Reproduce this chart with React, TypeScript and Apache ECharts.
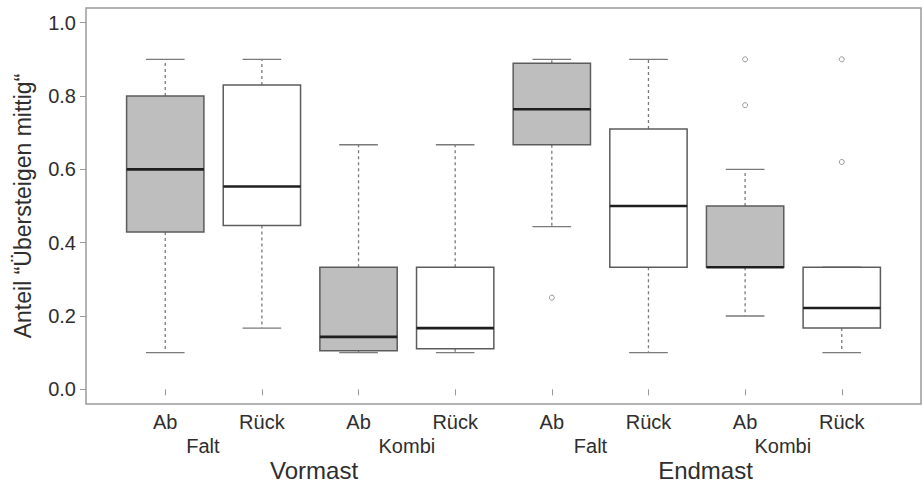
import React, { useEffect, useRef } from "react";
import * as echarts from "echarts";

// ---- data ----
const positions = [1, 2, 3, 4, 5, 6, 7, 8];
const boxLabels = ["Ab", "Rück", "Ab", "Rück", "Ab", "Rück", "Ab", "Rück"];
const lowerWhisker = [0.1, 0.167, 0.1, 0.1, 0.444, 0.1, 0.2, 0.1];
const quartile1 = [0.429, 0.447, 0.105, 0.111, 0.667, 0.333, 0.333, 0.167];
const medians = [0.6, 0.553, 0.143, 0.167, 0.764, 0.5, 0.333, 0.222];
const quartile3 = [0.8, 0.83, 0.333, 0.333, 0.889, 0.71, 0.5, 0.333];
const upperWhisker = [0.9, 0.9, 0.667, 0.667, 0.9, 0.9, 0.6, 0.333];
const fillKinds = [1, 0, 1, 0, 1, 0, 1, 0]; // 1 = grey (Ab), 0 = white (Rück)
const outliers: [number, number][] = [
  [5, 0.25],
  [7, 0.9],
  [7, 0.775],
  [8, 0.9],
  [8, 0.62],
];
const typeLabels = ["Falt", "Kombi", "Falt", "Kombi"];
const typePositions = [1.39, 3.5, 5.4, 7.39];
const phaseLabels = ["Vormast", "Endmast"];
const phasePositions = [2.54, 6.59];
const yTicks = [0, 0.2, 0.4, 0.6, 0.8, 1.0];
const yTitle = "Anteil “Übersteigen mittig“";

const FONT = "'Liberation Sans', Arial, Helvetica, sans-serif";
const TEXT = "#2e2e2e";
const GREY_FILL = "#bebebe";
const BOX_BORDER = "#5c5c5c";
const WHISKER = "#7a7a7a";
const FRAME = "#9a9a9a";

function nearestLabel(v: number, pos: number[], labels: string[]) {
  let best = 0;
  for (let i = 1; i < pos.length; i++) {
    if (Math.abs(pos[i] - v) < Math.abs(pos[best] - v)) best = i;
  }
  return labels[best];
}

export default function App() {
  const ref = useRef<HTMLDivElement>(null);
  useEffect(() => {
    if (!ref.current) return;
    const chart = echarts.init(ref.current, undefined, { renderer: "svg" });

    const boxData = positions.map((p, i) => [
      p,
      lowerWhisker[i],
      quartile1[i],
      medians[i],
      quartile3[i],
      upperWhisker[i],
      fillKinds[i],
    ]);

    const baseX = {
      type: "value" as const,
      min: 0.18,
      max: 8.82,
      position: "bottom" as const,
      gridIndex: 0,
      splitLine: { show: false },
      axisLine: { show: false },
    };

    chart.setOption({
      animation: false,
      backgroundColor: "#ffffff",
      grid: {
        left: 86,
        right: 1,
        top: 8,
        bottom: 79,
        show: true,
        borderColor: FRAME,
        borderWidth: 1.5,
        backgroundColor: "transparent",
      },
      xAxis: [
        {
          ...baseX,
          axisTick: {
            show: true,
            customValues: positions,
            length: 6,
            lineStyle: { color: FRAME, width: 1 },
          },
          axisLabel: {
            customValues: positions,
            formatter: (v: number) => nearestLabel(v, positions, boxLabels),
            fontSize: 20,
            fontFamily: FONT,
            color: TEXT,
            margin: 8,
          },
        },
        {
          ...baseX,
          offset: 24,
          axisTick: { show: false },
          axisLabel: {
            customValues: typePositions,
            formatter: (v: number) => nearestLabel(v, typePositions, typeLabels),
            fontSize: 20,
            fontFamily: FONT,
            color: TEXT,
            margin: 8,
          },
        },
        {
          ...baseX,
          offset: 48,
          axisTick: { show: false },
          axisLabel: {
            customValues: phasePositions,
            formatter: (v: number) => nearestLabel(v, phasePositions, phaseLabels),
            fontSize: 24,
            fontFamily: FONT,
            color: TEXT,
            margin: 6,
          },
        },
      ],
      yAxis: {
        type: "value",
        min: -0.04,
        max: 1.04,
        splitLine: { show: false },
        axisLine: { show: false },
        axisTick: {
          show: true,
          customValues: yTicks,
          length: 6,
          lineStyle: { color: FRAME, width: 1 },
        },
        axisLabel: {
          customValues: yTicks,
          formatter: (v: number) => v.toFixed(1),
          fontSize: 20,
          fontFamily: FONT,
          color: TEXT,
          margin: 10,
        },
        name: yTitle,
        nameLocation: "middle",
        nameRotate: 90,
        nameGap: 52,
        nameTextStyle: { fontSize: 23, fontFamily: FONT, color: TEXT },
      },
      series: [
        {
          type: "custom",
          xAxisIndex: 0,
          yAxisIndex: 0,
          data: boxData,
          renderItem: (params: any, api: any) => {
            const x = api.value(0);
            const lo = api.coord([x, api.value(1)]);
            const q1 = api.coord([x, api.value(2)]);
            const med = api.coord([x, api.value(3)]);
            const q3 = api.coord([x, api.value(4)]);
            const hi = api.coord([x, api.value(5)]);
            const fill = api.value(6) === 1 ? GREY_FILL : "#ffffff";
            const boxW = api.size([0.8, 0])[0];
            const capW = api.size([0.4, 0])[0];
            const cx = lo[0];
            const dash = { stroke: WHISKER, lineWidth: 1.3, lineDash: [3, 3] };
            const solid = { stroke: WHISKER, lineWidth: 1.3 };
            return {
              type: "group",
              children: [
                {
                  type: "line",
                  shape: { x1: cx, y1: q3[1], x2: cx, y2: hi[1] },
                  style: dash,
                },
                {
                  type: "line",
                  shape: { x1: cx, y1: q1[1], x2: cx, y2: lo[1] },
                  style: dash,
                },
                {
                  type: "line",
                  shape: { x1: cx - capW / 2, y1: hi[1], x2: cx + capW / 2, y2: hi[1] },
                  style: solid,
                },
                {
                  type: "line",
                  shape: { x1: cx - capW / 2, y1: lo[1], x2: cx + capW / 2, y2: lo[1] },
                  style: solid,
                },
                {
                  type: "rect",
                  shape: {
                    x: cx - boxW / 2,
                    y: q3[1],
                    width: boxW,
                    height: q1[1] - q3[1],
                  },
                  style: { fill, stroke: BOX_BORDER, lineWidth: 1.5 },
                },
                {
                  type: "line",
                  shape: { x1: cx - boxW / 2, y1: med[1], x2: cx + boxW / 2, y2: med[1] },
                  style: { stroke: "#1e1e1e", lineWidth: 2.6 },
                },
              ],
            };
          },
        },
        {
          type: "scatter",
          xAxisIndex: 0,
          yAxisIndex: 0,
          data: outliers,
          symbol: "circle",
          symbolSize: 5,
          itemStyle: { color: "#ffffff", borderColor: "#808080", borderWidth: 1 },
        },
      ],
    });
    return () => chart.dispose();
  }, []);

  return (
    <div
      ref={ref}
      style={{ position: "fixed", left: 0, top: 0, width: 922, height: 483, background: "#fff" }}
    />
  );
}
